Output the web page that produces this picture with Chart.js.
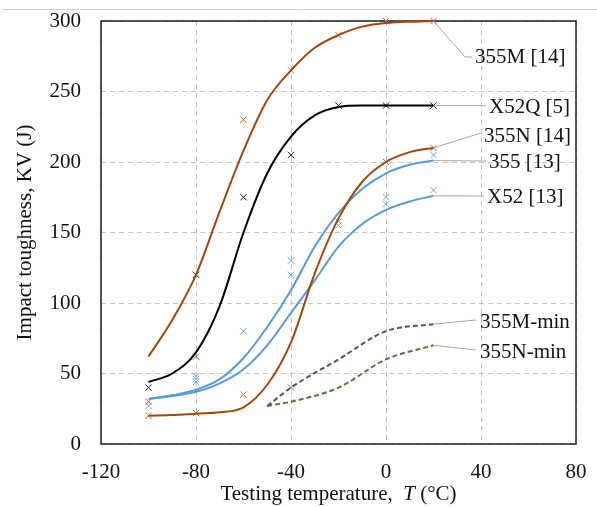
<!DOCTYPE html>
<html>
<head>
<meta charset="utf-8">
<script src="https://cdn.jsdelivr.net/npm/chart.js@4/dist/chart.umd.min.js"></script>
<style>
  html, body { margin: 0; padding: 0; background: #fff; }
  #wrap { width: 597px; height: 507px; position: relative; }
</style>
</head>
<body>
<div id="wrap"><canvas id="chart" width="597" height="507"></canvas></div>
<script>
// smoothed curves (temperature in °C, KV in J)
const curveTemps = [-100, -90, -80, -70, -60, -50, -40, -30, -20, -10, 0, 10, 20];
const curve355M = [62, 88, 120, 165, 208, 244, 265, 281, 290, 296, 298.5, 299.5, 300];
const curveX52Q = [44, 50, 65, 98, 150, 192, 218, 233, 239, 240, 240, 240, 240];
const curve355N = [20, 20.5, 21.5, 22.5, 26, 42, 72, 121, 160, 186, 200, 207, 210];
const curve355 = [32, 34.5, 38.5, 46, 61, 83, 109, 140, 164, 181, 192, 198, 201];
const curveX52 = [32, 34, 37, 43, 53, 70, 93, 116, 140, 156, 166, 172, 176];

// minimum requirement lines
const minTemps = [-50, -40, -20, 0, 20];
const min355M = [27, 40, 60, 80, 85];
const min355N = [27, 30, 40, 60, 70];

// test results
const test355M_T = [-60, -40, -20, 0, 20];
const test355M_KV = [230, 265, 290, 300, 300];
const testX52Q_T = [-100, -80, -60, -40, -20, 0, 20];
const testX52Q_KV = [40, 120, 175, 205, 240, 240, 240];
const test355N_T = [-100, -100, -80, -80, -60, -40, -20, 0, 20];
const test355N_KV = [20, 30, 22, 62, 35, 40, 158, 200, 210];
const test355_T = [-100, -80, -80, -80, -60, -40, -40, -20, 0, 0, 20, 20];
const test355_KV = [27, 48, 46, 44, 80, 130, 120, 155, 175, 170, 205, 180];

const xTicks = [-120, -80, -40, 0, 40, 80];
const yTicks = [0, 50, 100, 150, 200, 250, 300];

const labels = [
  { text: '355M [14]', t: 20, kv: 300, lx: 475, ly: 57, bend: [465, 57], end: 472 },
  { text: 'X52Q [5]', t: 20, kv: 240, lx: 489, ly: 107, end: 486 },
  { text: '355N [14]', t: 20, kv: 210, lx: 484, ly: 136, end: 481, endY: 133 },
  { text: '355 [13]', t: 20, kv: 201, lx: 489, ly: 162, end: 486, endY: 161 },
  { text: 'X52 [13]', t: 20, kv: 176, lx: 487, ly: 197, end: 484, endY: 196 },
  { text: '355M-min', t: 20, kv: 85, lx: 480, ly: 322, end: 476, endY: 320 },
  { text: '355N-min', t: 20, kv: 70, lx: 480, ly: 352, end: 476, endY: 350 }
];

const SERIF = '"Liberation Serif", "Times New Roman", serif';
const BROWN = '#9E480E';
const BROWN_PT = '#B86A3C';
const BLUE = '#5B9BD5';
const BLUE_PT = '#6FA8DC';

function pts(xs, ys) {
  return xs.map((x, i) => ({ x: x, y: ys[i] }));
}

function curve(label, ys, color) {
  return {
    type: 'line', label: label, data: pts(curveTemps, ys),
    borderColor: color, borderWidth: 2, pointRadius: 0,
    cubicInterpolationMode: 'monotone', fill: false, clip: false
  };
}

function dashed(label, ys, color) {
  return {
    type: 'line', label: label, data: pts(minTemps, ys),
    borderColor: color, borderWidth: 2, borderDash: [5, 3], pointRadius: 0,
    cubicInterpolationMode: 'monotone', fill: false, clip: false
  };
}

function marks(label, xs, ys, color) {
  return {
    type: 'scatter', label: label, data: pts(xs, ys),
    pointStyle: 'crossRot', pointRadius: 4.5, borderWidth: 1,
    borderColor: color, backgroundColor: color, showLine: false, clip: false
  };
}

const decor = {
  id: 'decor',
  beforeDatasetsDraw(chart) {
    const ctx = chart.ctx, a = chart.chartArea;
    ctx.save();
    ctx.strokeStyle = '#d0d0d0';
    ctx.lineWidth = 1;
    ctx.beginPath();
    ctx.moveTo(2, 9.5);
    ctx.lineTo(597, 9.5);
    ctx.stroke();
    ctx.strokeStyle = '#1e1e1e';
    ctx.lineWidth = 1.5;
    ctx.strokeRect(a.left, a.top, a.right - a.left, a.bottom - a.top);
    ctx.restore();
  },
  afterDatasetsDraw(chart) {
    const ctx = chart.ctx, xs = chart.scales.x, ys = chart.scales.y;
    ctx.save();
    ctx.strokeStyle = '#a6a6a6';
    ctx.lineWidth = 1;
    labels.forEach(l => {
      const px = xs.getPixelForValue(l.t), py = ys.getPixelForValue(l.kv);
      ctx.beginPath();
      ctx.moveTo(px, py);
      if (l.bend) {
        ctx.lineTo(l.bend[0], l.bend[1]);
        ctx.lineTo(l.end, l.bend[1]);
      } else {
        ctx.lineTo(l.end, l.endY !== undefined ? l.endY : py);
      }
      ctx.stroke();
    });
    ctx.fillStyle = '#111';
    ctx.font = '21px ' + SERIF;
    ctx.textBaseline = 'middle';
    ctx.textAlign = 'left';
    labels.forEach(l => ctx.fillText(l.text, l.lx, l.ly));

    // axis titles
    ctx.font = '21px ' + SERIF;
    const p1 = 'Testing temperature,  ', p2 = 'T', p3 = ' (°C)';
    const w1 = ctx.measureText(p1).width, w3 = ctx.measureText(p3).width;
    ctx.font = 'italic 21px ' + SERIF;
    const w2 = ctx.measureText(p2).width;
    const cx = (chart.chartArea.left + chart.chartArea.right) / 2;
    let x0 = cx - (w1 + w2 + w3) / 2;
    const ty = 494;
    ctx.font = '21px ' + SERIF;
    ctx.fillText(p1, x0, ty);
    ctx.font = 'italic 21px ' + SERIF;
    ctx.fillText(p2, x0 + w1, ty);
    ctx.font = '21px ' + SERIF;
    ctx.fillText(p3, x0 + w1 + w2, ty);

    ctx.translate(25, (chart.chartArea.top + chart.chartArea.bottom) / 2);
    ctx.rotate(-Math.PI / 2);
    ctx.textAlign = 'center';
    ctx.fillText('Impact toughness, KV (J)', 0, 0);
    ctx.restore();
  }
};

new Chart(document.getElementById('chart'), {
  data: {
    datasets: [
      curve('355M [14]', curve355M, BROWN),
      curve('X52Q [5]', curveX52Q, '#000000'),
      curve('355N [14]', curve355N, BROWN),
      curve('355 [13]', curve355, BLUE),
      curve('X52 [13]', curveX52, BLUE),
      dashed('355M-min', min355M, '#44587F'),
      dashed('355N-min', min355N, '#4E7A31'),
      marks('355M tests', test355M_T, test355M_KV, BROWN_PT),
      marks('X52Q tests', testX52Q_T, testX52Q_KV, '#222222'),
      marks('355N tests', test355N_T, test355N_KV, BROWN_PT),
      marks('355/X52 tests', test355_T, test355_KV, BLUE_PT)
    ]
  },
  options: {
    responsive: false,
    animation: false,
    events: [],
    layout: { padding: { top: 21, right: 21, left: 0, bottom: 0 } },
    plugins: { legend: { display: false }, tooltip: { enabled: false } },
    scales: {
      x: {
        type: 'linear', min: -120, max: 80,
        afterBuildTicks: s => { s.ticks = xTicks.map(v => ({ value: v })); },
        afterFit: s => { s.height = 63; s.paddingLeft = 0; s.paddingRight = 0; },
        grid: { color: '#c4c4c4', lineWidth: 1, drawTicks: false },
        border: { display: false, dash: [5, 4] },
        ticks: { color: '#111', padding: 16, font: { family: SERIF, size: 21 } }
      },
      y: {
        type: 'linear', min: 0, max: 300,
        afterBuildTicks: s => { s.ticks = yTicks.map(v => ({ value: v })); },
        afterFit: s => { s.width = 101; s.paddingTop = 0; s.paddingBottom = 0; },
        grid: { color: '#c4c4c4', lineWidth: 1, drawTicks: false },
        border: { display: false, dash: [5, 4] },
        ticks: { color: '#111', padding: 20, font: { family: SERIF, size: 21 } }
      }
    }
  },
  plugins: [decor]
});
</script>
</body>
</html>
